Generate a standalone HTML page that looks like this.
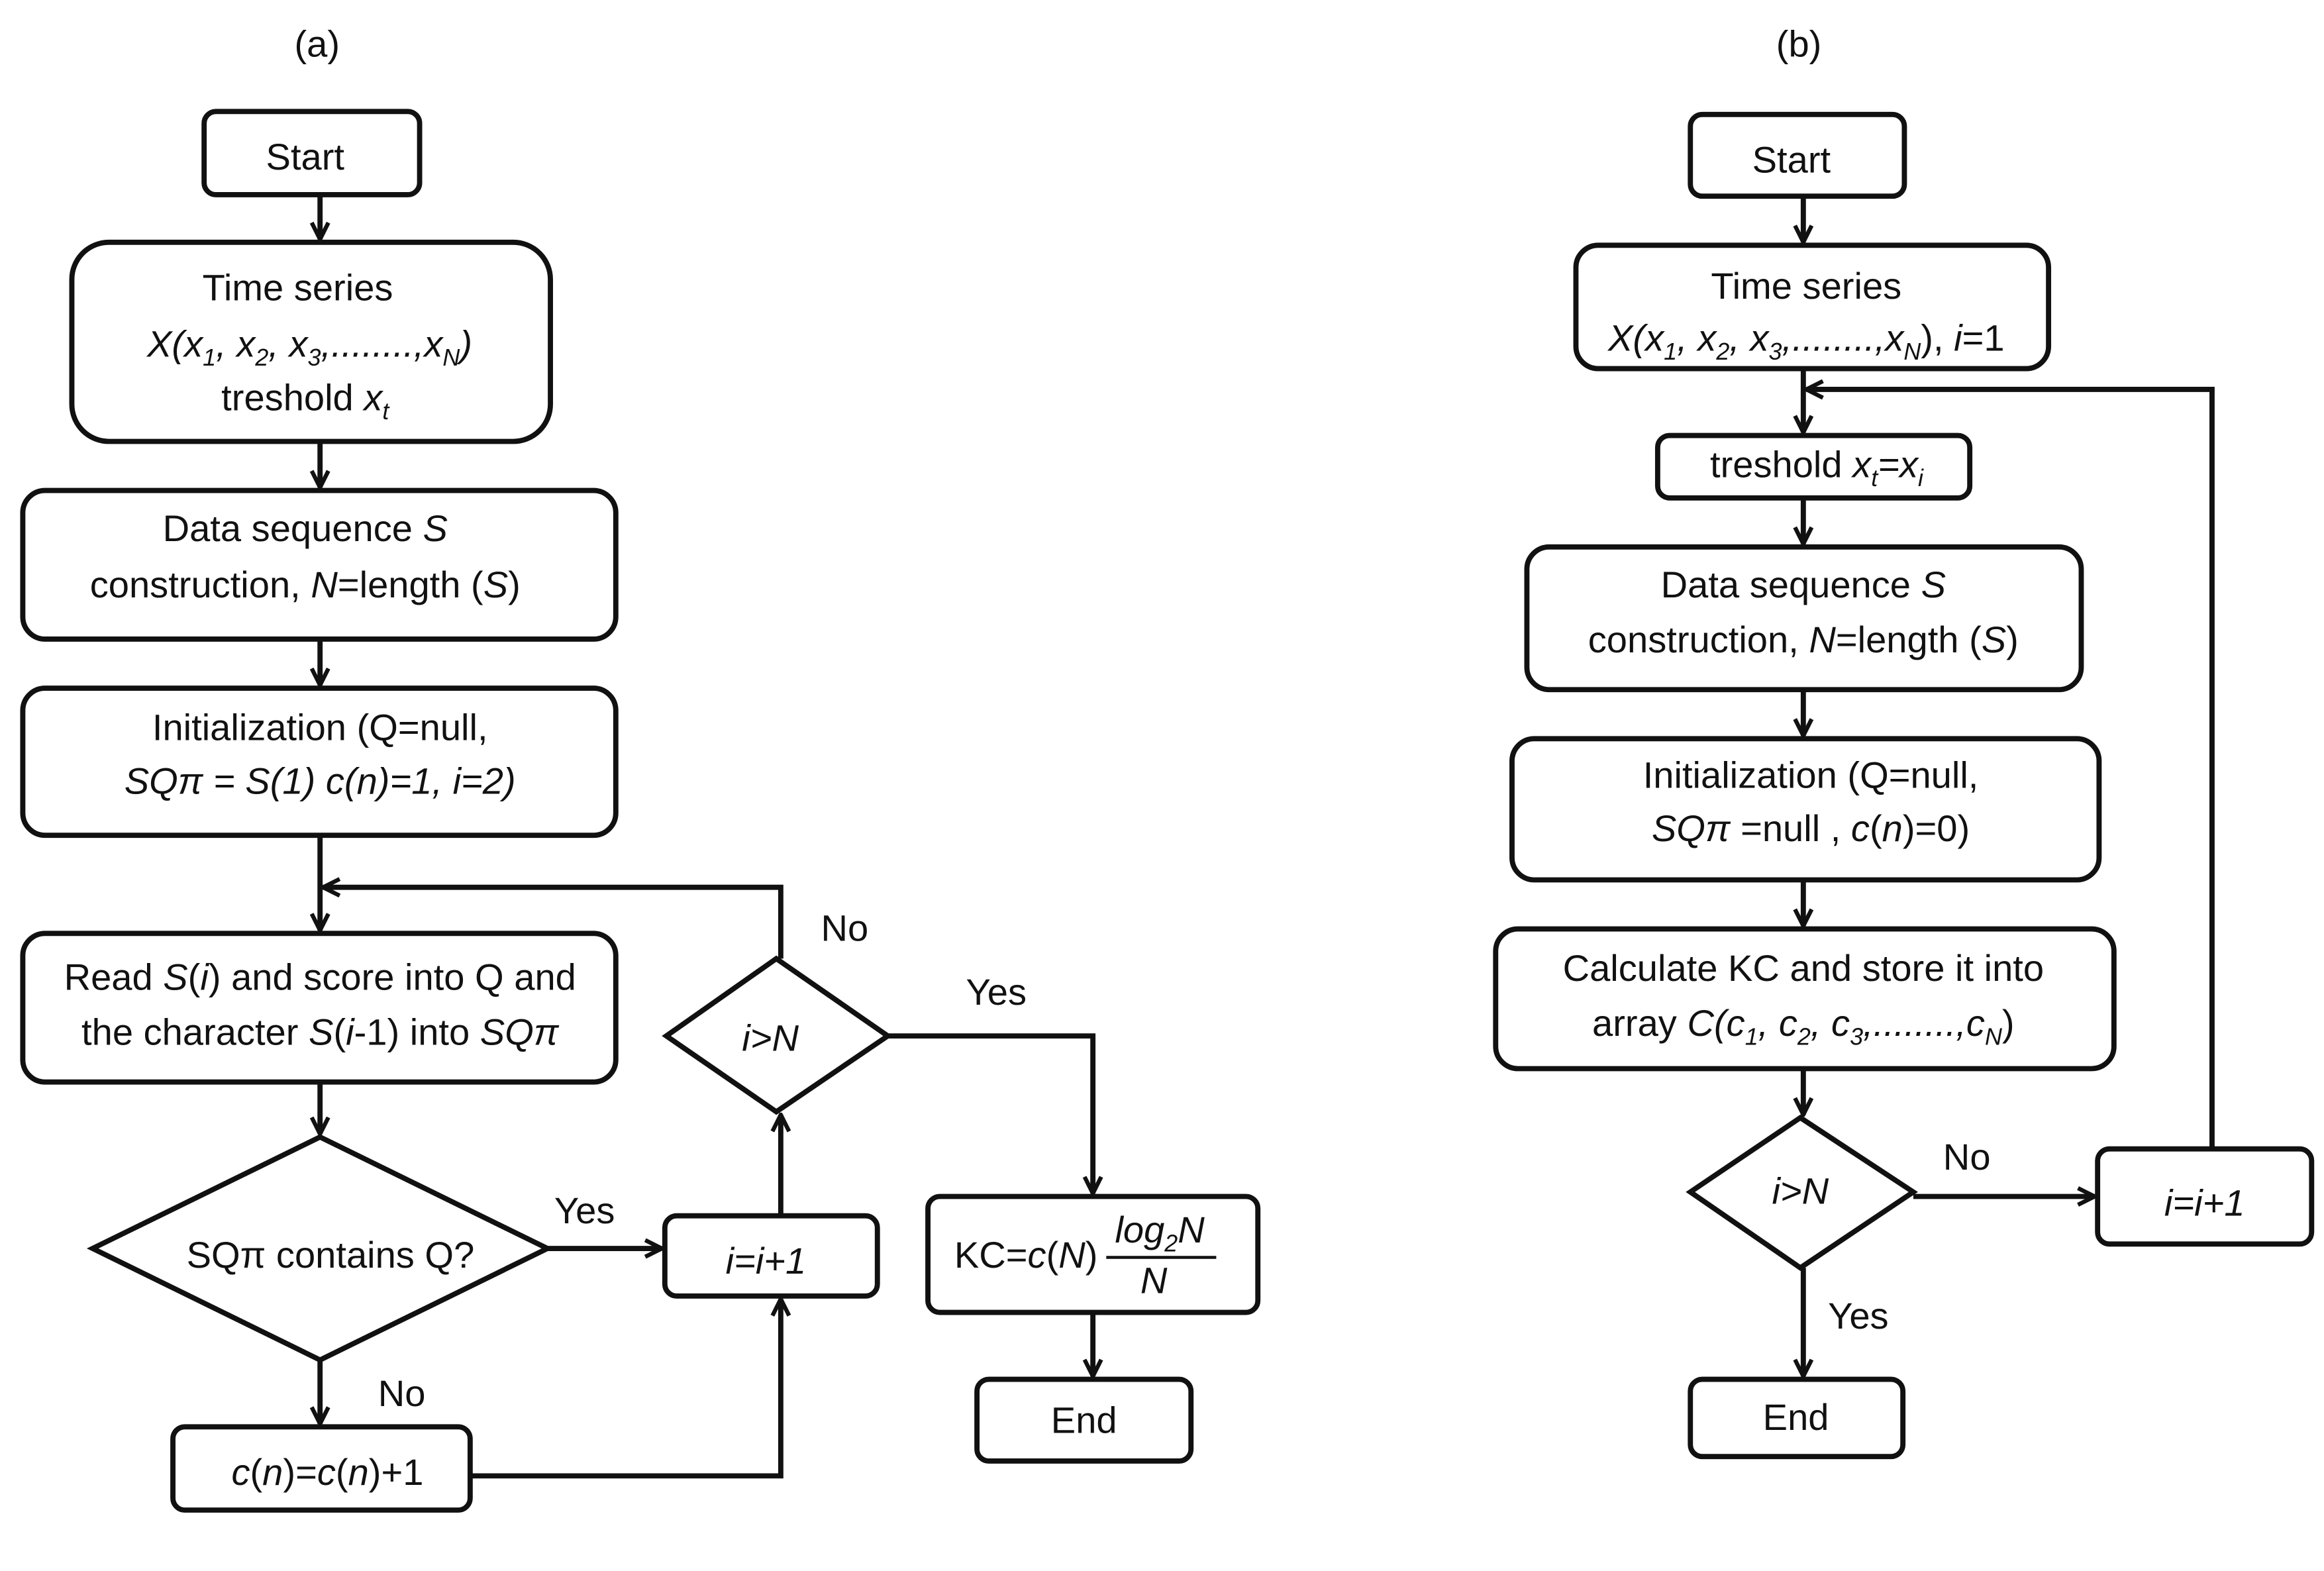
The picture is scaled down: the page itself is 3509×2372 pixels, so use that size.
<!DOCTYPE html>
<html><head><meta charset="utf-8"><style>
html,body{margin:0;padding:0;background:#fff;}
svg{display:block;}
text{font-family:"Liberation Sans",sans-serif;font-size:25px;fill:#111;}
.i{font-style:italic;}
</style></head><body>
<svg width="3509" height="2372" viewBox="0 0 1563 1057" xmlns="http://www.w3.org/2000/svg">
<defs><marker id="a" markerWidth="10" markerHeight="10" refX="9" refY="5" orient="auto" markerUnits="userSpaceOnUse"><path d="M0,0 L10,5 L0,10 Z" fill="#111"/></marker>
<marker id="h" viewBox="0 0 10 10" markerWidth="14" markerHeight="14" refX="9" refY="5" orient="auto" markerUnits="userSpaceOnUse"><path d="M1,1 L9,5 L1,9" fill="none" stroke="#111" stroke-width="2"/></marker></defs>
<g fill="none" stroke="#111" stroke-width="3.5">
<!-- (a) -->
<rect x="137" y="75" width="145" height="56" rx="8"/>
<rect x="48" y="163" width="322" height="134" rx="25"/>
<rect x="15" y="330" width="399" height="100" rx="15"/>
<rect x="15" y="463" width="399" height="99" rx="15"/>
<rect x="15" y="628" width="399" height="100" rx="15"/>
<polygon points="215,765 368,840 215,915 62,840"/>
<rect x="447" y="818" width="143" height="54" rx="8"/>
<polygon points="522,645 597,697 522,748 448,697"/>
<rect x="624" y="805" width="222" height="78" rx="8"/>
<rect x="657" y="928" width="144" height="55" rx="8"/>
<rect x="116" y="960" width="200" height="56" rx="8"/>
<g marker-end="url(#h)">
<line x1="215" y1="131" x2="215" y2="161"/>
<line x1="215" y1="297" x2="215" y2="328"/>
<line x1="215" y1="430" x2="215" y2="461"/>
<line x1="215" y1="562" x2="215" y2="626"/>
<polyline points="525,645 525,597 217,597"/>
<line x1="215" y1="728" x2="215" y2="763"/>
<line x1="368" y1="840" x2="445" y2="840"/>
<line x1="525" y1="818" x2="525" y2="750"/>
<polyline points="597,697 735,697 735,803"/>
<line x1="735" y1="883" x2="735" y2="926"/>
<line x1="215" y1="915" x2="215" y2="958"/>
<polyline points="316,993 525,993 525,874"/>
</g>
<!-- (b) -->
<rect x="1137" y="77" width="144" height="55" rx="8"/>
<rect x="1060" y="165" width="318" height="83" rx="15"/>
<rect x="1115" y="293" width="210" height="42" rx="8"/>
<rect x="1027" y="368" width="373" height="96" rx="15"/>
<rect x="1017" y="497" width="395" height="95" rx="15"/>
<rect x="1006" y="625" width="416" height="94" rx="15"/>
<polygon points="1211,752 1287,802 1211,853 1137,802"/>
<rect x="1411" y="773" width="144" height="64" rx="8"/>
<rect x="1137" y="928" width="143" height="52" rx="8"/>
<g marker-end="url(#h)">
<line x1="1213" y1="132" x2="1213" y2="163"/>
<line x1="1213" y1="248" x2="1213" y2="291"/>
<polyline points="1488,773 1488,262 1215,262"/>
<line x1="1213" y1="335" x2="1213" y2="366"/>
<line x1="1213" y1="464" x2="1213" y2="495"/>
<line x1="1213" y1="592" x2="1213" y2="623"/>
<line x1="1213" y1="719" x2="1213" y2="750"/>
<line x1="1287" y1="805" x2="1409" y2="805"/>
<line x1="1213" y1="853" x2="1213" y2="926"/>
</g>
<line x1="744" y1="846" x2="818" y2="846" stroke-width="2"/>
</g>
<g text-anchor="middle">
<text x="213" y="38">(a)</text>
<text x="1210" y="38">(b)</text>
<text x="205" y="114">Start</text>
<text x="200" y="202">Time series</text>
<text x="208" y="240" class="i">X(x<tspan font-size="16" dy="6">1</tspan><tspan dy="-6">, x</tspan><tspan font-size="16" dy="6">2</tspan><tspan dy="-6">, x</tspan><tspan font-size="16" dy="6">3</tspan><tspan dy="-6">,........,x</tspan><tspan font-size="16" dy="6">N</tspan><tspan dy="-6">)</tspan></text>
<text x="205" y="276">treshold <tspan class="i">x</tspan><tspan class="i" font-size="16" dy="6">t</tspan></text>
<text x="205" y="364">Data sequence <tspan class="i">S</tspan></text>
<text x="205" y="402">construction, <tspan class="i">N</tspan>=length (<tspan class="i">S</tspan>)</text>
<text x="215" y="498">Initialization (Q=null,</text>
<text x="215" y="534" class="i">SQπ = S(1) c(n)=1, i=2)</text>
<text x="215" y="666">Read <tspan class="i">S</tspan>(<tspan class="i">i</tspan>) and score into Q and</text>
<text x="215" y="703">the character <tspan class="i">S</tspan>(<tspan class="i">i</tspan>-1) into <tspan class="i">SQπ</tspan></text>
<text x="222" y="853">SQπ contains  Q?</text>
<text x="393" y="823">Yes</text>
<text x="515" y="857" class="i">i=i+1</text>
<text x="518" y="707" class="i">i&gt;N</text>
<text x="568" y="633">No</text>
<text x="670" y="676">Yes</text>
<text x="690" y="853">KC=<tspan class="i">c</tspan>(<tspan class="i">N</tspan>)</text>
<text x="780" y="836" class="i">log<tspan font-size="16" dy="6">2</tspan><tspan dy="-6">N</tspan></text>
<text x="776" y="870" class="i">N</text>
<text x="729" y="964">End</text>
<text x="270" y="946">No</text>
<text x="220" y="999"><tspan class="i">c</tspan>(<tspan class="i">n</tspan>)=<tspan class="i">c</tspan>(<tspan class="i">n</tspan>)+1</text>
<text x="1205" y="116">Start</text>
<text x="1215" y="201">Time series</text>
<text x="1215" y="236"><tspan class="i">X(x</tspan><tspan class="i" font-size="16" dy="6">1</tspan><tspan class="i" dy="-6">, x</tspan><tspan class="i" font-size="16" dy="6">2</tspan><tspan class="i" dy="-6">, x</tspan><tspan class="i" font-size="16" dy="6">3</tspan><tspan class="i" dy="-6">,........,x</tspan><tspan class="i" font-size="16" dy="6">N</tspan><tspan dy="-6">), </tspan><tspan class="i">i</tspan>=1</text>
<text x="1222" y="321">treshold <tspan class="i">x</tspan><tspan class="i" font-size="16" dy="6">t</tspan><tspan class="i" dy="-6">=x</tspan><tspan class="i" font-size="16" dy="6">i</tspan></text>
<text x="1213" y="402">Data sequence <tspan class="i">S</tspan></text>
<text x="1213" y="439">construction, <tspan class="i">N</tspan>=length (<tspan class="i">S</tspan>)</text>
<text x="1218" y="530">Initialization (Q=null,</text>
<text x="1218" y="566"><tspan class="i">SQπ</tspan> =null , <tspan class="i">c</tspan>(<tspan class="i">n</tspan>)=0)</text>
<text x="1213" y="660">Calculate KC and store it into</text>
<text x="1213" y="697">array  <tspan class="i">C(c</tspan><tspan class="i" font-size="16" dy="6">1</tspan><tspan class="i" dy="-6">, c</tspan><tspan class="i" font-size="16" dy="6">2</tspan><tspan class="i" dy="-6">, c</tspan><tspan class="i" font-size="16" dy="6">3</tspan><tspan class="i" dy="-6">,........,c</tspan><tspan class="i" font-size="16" dy="6">N</tspan><tspan dy="-6">)</tspan></text>
<text x="1211" y="810" class="i">i&gt;N</text>
<text x="1323" y="787">No</text>
<text x="1483" y="818" class="i">i=i+1</text>
<text x="1250" y="894">Yes</text>
<text x="1208" y="962">End</text>
</g>
</svg>
</body></html>
